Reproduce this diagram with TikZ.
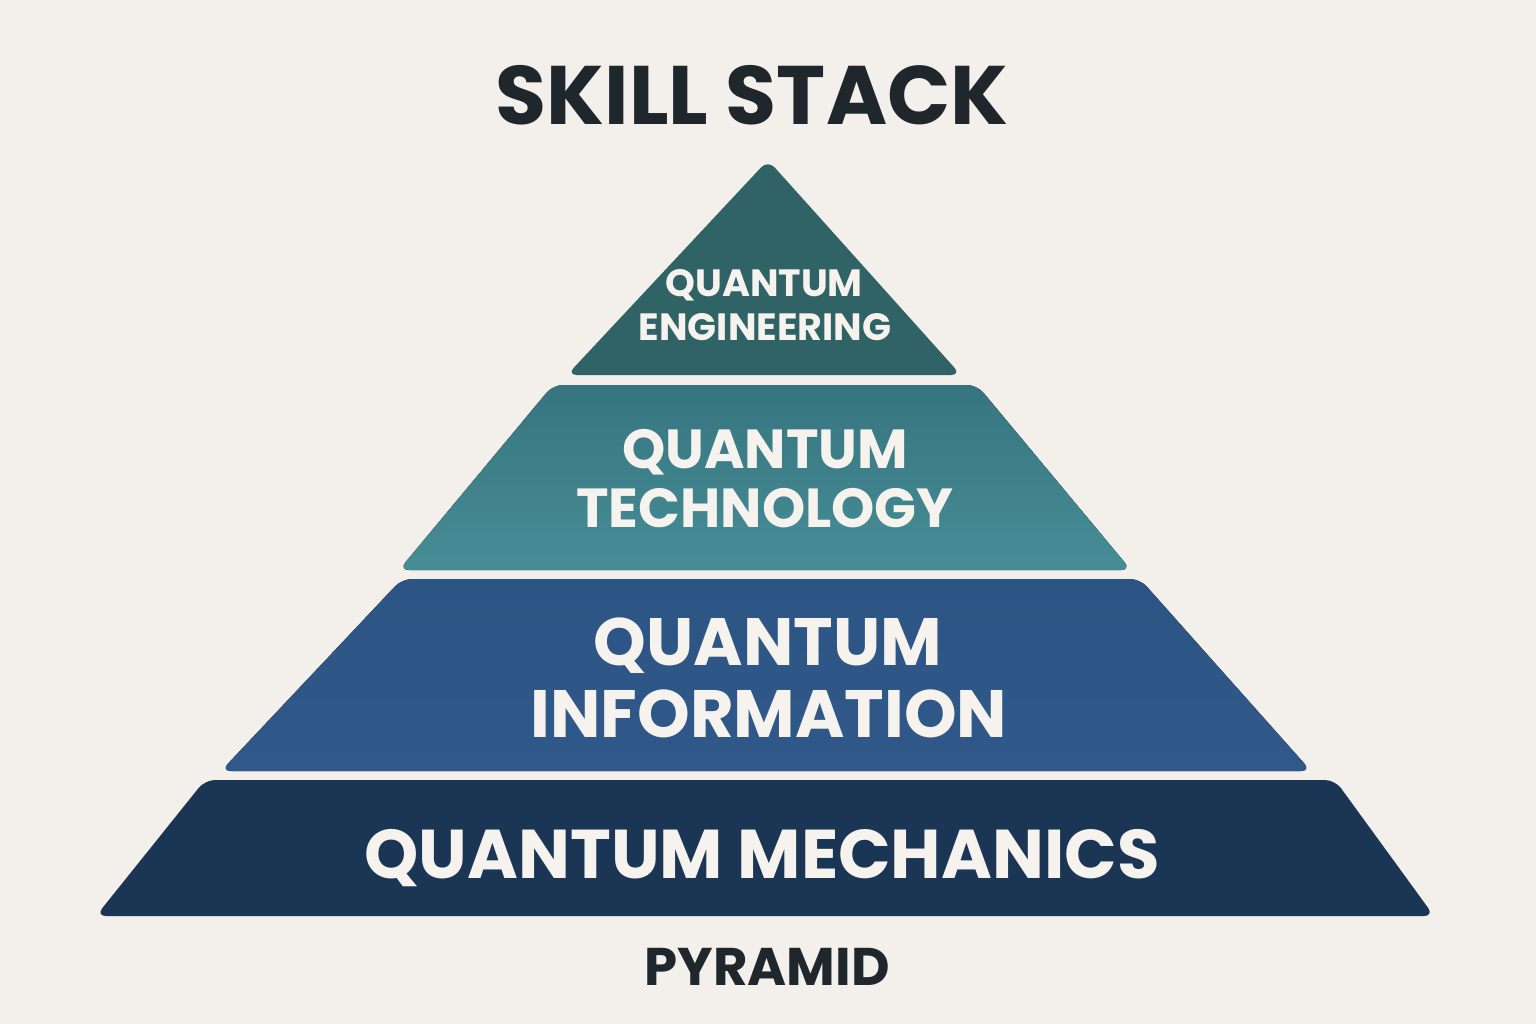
\documentclass[tikz,border=0pt]{standalone}
\usepackage{fontspec}
\setmainfont{Poppins}
\usepackage{xcolor}
\definecolor{bgcream}{HTML}{F3EFEB}
\definecolor{inkdark}{HTML}{1F262C}
\definecolor{tiertop}{HTML}{2F6366}
\definecolor{tiertechA}{HTML}{367580}
\definecolor{tiertechB}{HTML}{478D96}
\definecolor{tierinfoA}{HTML}{2C5584}
\definecolor{tierinfoB}{HTML}{30598A}
\definecolor{tierbase}{HTML}{1B3655}
\definecolor{lettering}{HTML}{F6F3EE}

\begin{document}
\begin{tikzpicture}[x=1pt,y=-1pt]
\tikzset{tier/.style={rounded corners=10pt}}
\tikzstyle{lbl}=[anchor=base,inner sep=0pt,text=lettering,font=\bfseries]
\tikzstyle{headline}=[anchor=base,inner sep=0pt,text=inkdark,font=\bfseries]

\fill[bgcream] (0,0) rectangle (1536,1024);
\useasboundingbox (0,0) rectangle (1536,1024);

% the four tiers, top to bottom
\fill[tier,tiertop] (768,160) -- (961,375) -- (567,375) -- cycle;
\fill[tier,top color=tiertechA,bottom color=tiertechB] (553,385) -- (977,385) -- (1131,570) -- (399,570) -- cycle;
\fill[tier,top color=tierinfoA,bottom color=tierinfoB] (402,579) -- (1140,579) -- (1311,771) -- (221,771) -- cycle;
\fill[tier,tierbase] (205,780) -- (1335,780) -- (1434,916) -- (96,916) -- cycle;

% labels
\node[headline,font=\bfseries\fontsize{83}{90}\selectfont] (title) at (752,125) {SKILL STACK};
\node[lbl,font=\bfseries\fontsize{38}{44}\selectfont] (eng1) at (764,297) {QUANTUM};
\node[lbl,font=\bfseries\fontsize{38}{44}\selectfont] (eng2) at (765,340) {ENGINEERING};
\node[lbl,font=\bfseries\fontsize{55}{64}\selectfont] (tech1) at (765,468) {QUANTUM};
\node[lbl,font=\bfseries\fontsize{55}{64}\selectfont] (tech2) at (765,527) {TECHNOLOGY};
\node[lbl,font=\bfseries\fontsize{67}{78}\selectfont] (info1) at (768,665) {QUANTUM};
\node[lbl,font=\bfseries\fontsize{67}{78}\selectfont] (info2) at (769,737) {INFORMATION};
\node[lbl,font=\bfseries\fontsize{69}{78}\selectfont] (mech) at (762,878) {QUANTUM MECHANICS};
\node[headline,font=\bfseries\fontsize{53}{58}\selectfont] (foot) at (767,985) {PYRAMID};
\end{tikzpicture}
\end{document}
